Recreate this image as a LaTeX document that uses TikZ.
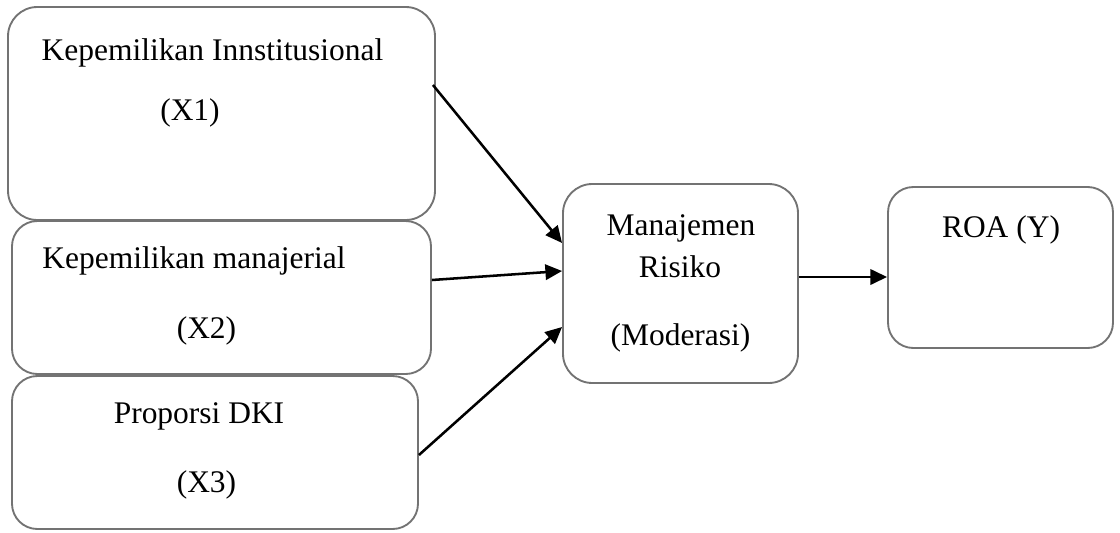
\documentclass[tikz,border=0pt]{standalone}
\usepackage{fontspec}
\setmainfont{Liberation Serif}
\usepackage{tikz}
\usetikzlibrary{arrows.meta, positioning, calc}

\begin{document}
\begin{tikzpicture}[
    x=0.75pt, y=-0.75pt,
    box/.style = {rectangle, draw=black!55, line width=1.4pt, fill=white,
                  rounded corners=22pt, inner sep=0pt},
    txt/.style = {anchor=base, inner sep=0pt, font=\fontsize{23.6}{28}\selectfont},
    arr/.style = {-{Triangle[length=12.5pt,width=11.5pt]}, line width=1.9pt}
  ]
  \useasboundingbox (0,0) rectangle (1120,532);

  % ----------------------------------------------------------------
  % Boxes (centre and size in px)
  % ----------------------------------------------------------------
  \node[box, minimum width=320.25pt, minimum height=159.75pt] (x1) at (221.5,113.5) {};
  \node[box, minimum width=314.25pt, minimum height=114.75pt,
        rounded corners=19pt] (x2) at (221.5,297.5) {};
  \node[box, minimum width=304.5pt,  minimum height=114.75pt,
        rounded corners=19pt] (x3) at (215,452.5) {};
  \node[box, minimum width=176.25pt, minimum height=149.25pt] (mr) at (680.5,283.5) {};
  \node[box, minimum width=168.75pt, minimum height=120.75pt,
        rounded corners=19pt] (roa) at (1000.5,267.5) {};

  % ----------------------------------------------------------------
  % Texts (placed at their baselines)
  % ----------------------------------------------------------------
  \node[txt] (x1a) at (212.5,60)  {Kepemilikan Innstitusional};
  \node[txt] (x1b) at (190,120)   {(X1)};
  \node[txt] (x2a) at (194,268)   {Kepemilikan manajerial};
  \node[txt] (x2b) at (206.5,338) {(X2)};
  \node[txt] (x3a) at (199,423)   {Proporsi DKI};
  \node[txt] (x3b) at (206.5,492) {(X3)};
  \node[txt] (mra) at (681,235)   {Manajemen};
  \node[txt] (mrb) at (680,277)   {Risiko};
  \node[txt] (mrc) at (680.5,345) {(Moderasi)};
  \node[txt] (roaa) at (1001,237) {ROA (Y)};

  % ----------------------------------------------------------------
  % Arrows into the moderator and on to ROA
  % ----------------------------------------------------------------
  \draw[arr] ($(x1.east)+(-3,-28.5)$) -- ($(mr.west)+(0,-40.5)$);
  \draw[arr] ($(x2.east)+(0,-17.5)$)  -- ($(mr.west)+(0,-12.5)$);
  \draw[arr] ($(x3.east)+(0,2.5)$)    -- ($(mr.west)+(0,43.5)$);
  \draw[arr] ($(mr.east)+(0,-6.5)$)   -- ($(roa.west)+(0,9.5)$);

\end{tikzpicture}
\end{document}
